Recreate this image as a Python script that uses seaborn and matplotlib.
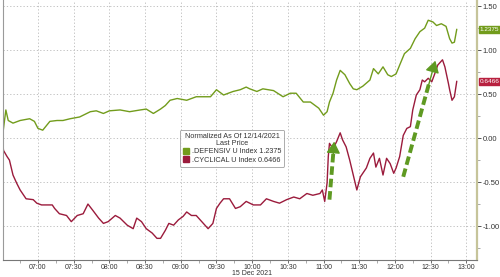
import matplotlib
matplotlib.use("Agg")
import matplotlib.pyplot as plt
import matplotlib.dates as mdates
from matplotlib.ticker import MultipleLocator, FixedLocator
from matplotlib.patches import Patch
import seaborn as sns
import pandas as pd

DAY = "2021-12-15"

def_times = ["06:30", "06:33", "06:35", "06:39", "06:45", "06:53", "06:57", "07:00", "07:04", "07:10",
             "07:16", "07:21", "07:27", "07:35", "07:44", "07:49", "07:55", "08:00", "08:09", "08:17",
             "08:26", "08:31", "08:37", "08:43", "08:47", "08:51", "08:57", "09:05", "09:13", "09:25",
             "09:30", "09:36", "09:44", "09:50", "09:55", "09:58", "10:04", "10:09", "10:18", "10:26",
             "10:32", "10:37", "10:43", "10:49", "10:56", "11:00", "11:03", "11:05", "11:08", "11:11",
             "11:14", "11:18", "11:22", "11:25", "11:28", "11:33", "11:39", "11:42", "11:46", "11:50",
             "11:54", "11:57", "12:01", "12:04", "12:08", "12:13", "12:17", "12:21", "12:25", "12:28",
             "12:32", "12:35", "12:39", "12:43", "12:46", "12:48", "12:50", "12:52"]
def_values = [0.00, 0.32, 0.20, 0.17, 0.20, 0.22, 0.19, 0.11, 0.09, 0.19,
              0.20, 0.20, 0.22, 0.24, 0.30, 0.31, 0.28, 0.31, 0.32, 0.30,
              0.32, 0.33, 0.28, 0.33, 0.37, 0.43, 0.45, 0.43, 0.47, 0.47,
              0.55, 0.49, 0.53, 0.55, 0.58, 0.56, 0.53, 0.56, 0.54, 0.47,
              0.51, 0.51, 0.41, 0.41, 0.34, 0.26, 0.30, 0.41, 0.51, 0.66,
              0.77, 0.72, 0.62, 0.56, 0.55, 0.59, 0.66, 0.79, 0.73, 0.81,
              0.72, 0.70, 0.73, 0.83, 0.96, 1.02, 1.13, 1.21, 1.25, 1.34,
              1.32, 1.28, 1.30, 1.27, 1.13, 1.08, 1.09, 1.2375]

cyc_times = ["06:30", "06:31", "06:34", "06:36", "06:39", "06:42", "06:45", "06:48", "06:50", "06:56",
             "06:59", "07:03", "07:07", "07:12", "07:14", "07:18", "07:24", "07:28", "07:33", "07:38",
             "07:42", "07:46", "07:51", "07:55", "07:59", "08:05", "08:09", "08:15", "08:20", "08:23",
             "08:27", "08:31", "08:36", "08:40", "08:43", "08:47", "08:50", "08:54", "08:58", "09:02",
             "09:05", "09:09", "09:13", "09:19", "09:23", "09:27", "09:30", "09:33", "09:36", "09:41",
             "09:46", "09:50", "09:55", "10:01", "10:07", "10:12", "10:18", "10:23", "10:29", "10:35",
             "10:40", "10:46", "10:51", "10:57", "10:59", "11:01", "11:03", "11:04", "11:05", "11:08",
             "11:11", "11:14", "11:16", "11:19", "11:22", "11:25", "11:28", "11:31", "11:33", "11:36",
             "11:39", "11:42", "11:44", "11:47", "11:50", "11:53", "11:56", "11:59", "12:01", "12:04",
             "12:07", "12:10", "12:13", "12:15", "12:18", "12:21", "12:23", "12:25", "12:28", "12:31",
             "12:34", "12:36", "12:40", "12:42", "12:45", "12:46", "12:48", "12:50", "12:52"]
cyc_values = [0.01, -0.14, -0.21, -0.25, -0.42, -0.51, -0.59, -0.65, -0.69, -0.70,
              -0.74, -0.76, -0.76, -0.76, -0.80, -0.86, -0.88, -0.95, -0.88, -0.86,
              -0.75, -0.82, -0.91, -0.97, -0.95, -0.88, -0.91, -0.99, -1.03, -0.91,
              -0.95, -1.03, -1.08, -1.14, -1.14, -1.05, -0.97, -0.99, -0.93, -0.89,
              -0.84, -0.88, -0.88, -0.97, -1.03, -0.97, -0.80, -0.74, -0.69, -0.69,
              -0.80, -0.78, -0.72, -0.76, -0.76, -0.69, -0.72, -0.74, -0.70, -0.67,
              -0.69, -0.63, -0.65, -0.63, -0.59, -0.72, -0.51, -0.21, -0.06, -0.12,
              -0.04, 0.06, -0.02, -0.10, -0.25, -0.42, -0.59, -0.44, -0.40, -0.34,
              -0.23, -0.17, -0.33, -0.23, -0.42, -0.23, -0.29, -0.40, -0.34, -0.21,
              0.03, 0.11, 0.13, 0.32, 0.49, 0.55, 0.66, 0.64, 0.68, 0.64,
              0.75, 0.83, 0.89, 0.81, 0.62, 0.55, 0.43, 0.47, 0.6466]

series_names = [".DEFENSIV U Index", ".CYCLICAL U Index"]
last_labels = ["1.2375", "0.6466"]
legend_title = "Normalized As Of 12/14/2021\nLast Price"
date_label = "15 Dec 2021"
y_ticks = [-1.0, -0.5, 0.0, 0.5, 1.0, 1.5]
x_start, x_end = "06:30:36", "13:09"
arrow_start_t = ["11:05", "12:07"]
arrow_start_v = [-0.70, -0.44]
arrow_end_t = ["11:09", "12:34"]
arrow_end_v = [-0.04, 0.88]

GREEN = "#729c1c"
RED = "#9b1b3c"
ARROW = "#5f9a22"

sns.set_style("white")
plt.rcParams["font.family"] = ["Liberation Sans", "DejaVu Sans"]

def ts(t):
    return pd.to_datetime(DAY + " " + t)

df_def = pd.DataFrame({"time": [ts(t) for t in def_times], "value": def_values})
df_cyc = pd.DataFrame({"time": [ts(t) for t in cyc_times], "value": cyc_values})

fig = plt.figure(figsize=(5.0, 2.77), dpi=100)
ax = fig.add_axes([0.006, 0.0614, 0.948, 0.9386])

sns.lineplot(data=df_def, x="time", y="value", ax=ax, color=GREEN, lw=1.0)
sns.lineplot(data=df_cyc, x="time", y="value", ax=ax, color=RED, lw=1.0)

ax.set_xlim(ts(x_start), ts(x_end))
ax.set_ylim(-1.386, 1.57)
ax.set_xlabel("")
ax.set_ylabel("")

ax.yaxis.set_major_locator(FixedLocator(y_ticks))
ax.yaxis.set_minor_locator(MultipleLocator(0.25))
ax.xaxis.set_major_locator(mdates.MinuteLocator(byminute=[0, 30]))
ax.xaxis.set_minor_locator(mdates.MinuteLocator(byminute=[15, 45]))
ax.xaxis.set_major_formatter(mdates.DateFormatter("%H:%M"))
ax.grid(True, which="major", color="#b8b8b8", lw=0.6, ls=(0, (1.5, 2.5)))

ax.yaxis.tick_right()
ax.set_yticklabels([f"{v:.2f}" for v in y_ticks])
ax.tick_params(axis="y", which="major", right=True, length=3, width=0.7, color="#555555",
               labelsize=5.5, labelcolor="#333333", pad=1)
ax.tick_params(axis="y", which="minor", right=True, length=2, width=0.5, color="#888888")
ax.tick_params(axis="x", which="major", bottom=True, length=2.5, width=0.6, color="#555555",
               labelsize=5.0, labelcolor="#333333", pad=0.3)
ax.tick_params(axis="x", which="minor", bottom=True, length=1.8, width=0.5, color="#888888")

ax.spines["top"].set_visible(False)
ax.spines["right"].set_color("#c6c49a")
ax.spines["right"].set_linewidth(1.6)
ax.spines["left"].set_color("#9a9a9a")
ax.spines["left"].set_linewidth(0.8)
ax.spines["bottom"].set_color("#777777")
ax.spines["bottom"].set_linewidth(0.8)

ax.annotate(date_label, xy=(mdates.date2num(ts("10:00")), 0.0),
            xycoords=("data", "figure fraction"), xytext=(0, 0.3), textcoords="offset points",
            ha="center", va="bottom", fontsize=5.0, color="#333333", annotation_clip=False)

# arrows
for st, sv, et, ev in zip(arrow_start_t, arrow_start_v, arrow_end_t, arrow_end_v):
    x0, x1 = mdates.date2num(ts(st)), mdates.date2num(ts(et))
    f = 0.82
    xm, vm = x0 + f * (x1 - x0), sv + f * (ev - sv)
    ax.plot([x0, xm], [sv, vm], color=ARROW, lw=2.8, ls=(0, (2.2, 1.0)),
            solid_capstyle="butt", dash_capstyle="butt", zorder=5)
    ax.annotate("", xy=(x1, ev), xytext=(xm - 0.05 * (x1 - x0), vm - 0.05 * (ev - sv)),
                arrowprops=dict(arrowstyle="-|>,head_length=0.7,head_width=0.42",
                                color=ARROW, lw=1.0, shrinkA=0, shrinkB=0), zorder=6)

# last value tags
for val, lab, col in zip([def_values[-1], cyc_values[-1]], last_labels, [GREEN, "#b8203f"]):
    ax.annotate(lab, xy=(1.0, val), xycoords=("axes fraction", "data"), xytext=(1.8, 0),
                textcoords="offset points", ha="left", va="center", fontsize=4.6, color="white",
                bbox=dict(boxstyle="square,pad=0.15", fc=col, ec=col), annotation_clip=False)

# legend
handles = [Patch(facecolor=GREEN, edgecolor=GREEN), Patch(facecolor=RED, edgecolor=RED)]
labels = [f"{n} {v}" for n, v in zip(series_names, last_labels)]
leg = ax.legend(handles, labels, title=legend_title, loc="center",
                bbox_to_anchor=(0.483, 0.43), fontsize=5.2, title_fontsize=5.2,
                frameon=True, fancybox=True, handlelength=0.9, handleheight=0.9,
                handletextpad=0.4, borderpad=0.4, labelspacing=0.12, borderaxespad=0)
leg.get_frame().set_edgecolor("#888888")
leg.get_frame().set_linewidth(0.6)
leg._legend_box.align = "center"
for t in leg.get_texts():
    t.set_color("#333333")
leg.get_title().set_color("#333333")
leg.get_title().set_multialignment("center")
leg.get_title().set_linespacing(1.05)

fig.savefig("out.png", dpi=100)
